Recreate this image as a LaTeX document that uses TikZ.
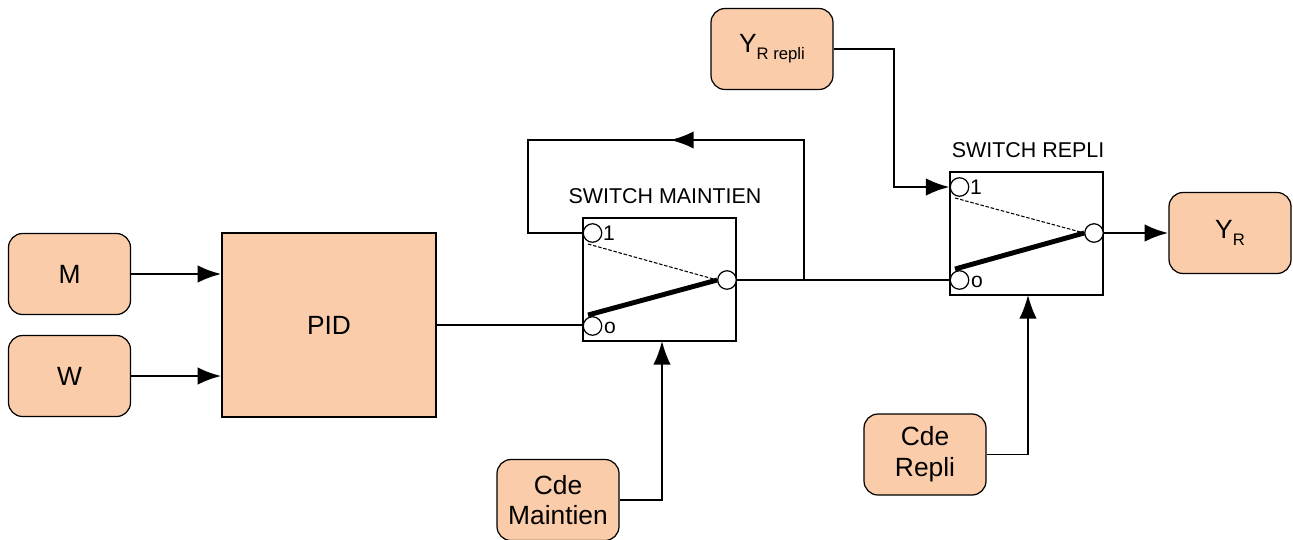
\documentclass[tikz,border=0pt]{standalone}
\usepackage{fontspec}
\setmainfont{Liberation Sans}
\usetikzlibrary{arrows.meta}
\definecolor{boxfill}{RGB}{250,204,170}
\newcommand{\subtxt}[1]{\raisebox{-0.5ex}{\fontsize{9.5}{12}\selectfont #1}}

\begin{document}
\begin{tikzpicture}[x=0.02cm,y=-0.02cm]
	\tikzset{>={Latex[length=13.5pt,width=10pt]}}
	\tikzset{inbox/.style={draw,fill=boxfill,rounded corners=0.28cm,line width=0.7pt,minimum width=2.44cm,minimum height=1.62cm,align=center,inner sep=0pt,font=\fontsize{15}{17.5}\selectfont}}
	\tikzset{switchbox/.style={draw,fill=white,line width=0.7pt,minimum width=3.06cm,minimum height=2.46cm,inner sep=0pt}}
	\tikzset{port/.style={draw,fill=white,circle,line width=0.7pt,minimum size=0.37cm,inner sep=0pt}}
	\tikzset{sig/.style={line width=1.65pt}}
	\tikzset{cmd/.style={line width=1pt}}
	\tikzset{portlabel/.style={inner sep=0pt,font=\fontsize{12}{14}\selectfont}}
	\tikzset{swlabel/.style={inner sep=0pt,font=\fontsize{12.2}{14}\selectfont}}
	\useasboundingbox (0,0) rectangle (1293,539);
	
	\node[inbox] (M) at (69.5,274) {M};
	\node[inbox] (W) at (69.5,376) {W};
	\node[draw,fill=boxfill,line width=0.7pt,minimum width=4.28cm,minimum height=3.68cm,inner sep=0pt,font=\fontsize{15}{17}\selectfont] (PID) at (329,325) {PID};
	\node[inbox] (CdeM) at (558,500) {Cde\\Maintien};
	\node[inbox] (CdeR) at (925,454.5) {Cde\\Repli};
	\node[inbox] (YRrepli) at (772,49) {Y\subtxt{R repli}};
	\node[inbox] (YR) at (1230,233) {Y\subtxt{R}};
	
	% switch maintien
	\node[switchbox] (SM) at (659.5,279.5) {};
	\node[swlabel] (SMlabel) at (665,196) {SWITCH MAINTIEN};
	\node[port] (SM1) at (592.5,233) {};
	\node[port] (SM0) at (592.5,326) {};
	\node[port] (SMout) at (727,280) {};
	\node[portlabel] (SMl1) at (609,233) {1};
	\node[portlabel] (SMl0) at (610,328) {o};
	\coordinate (SMdash) at (588,244);
	\coordinate (SMthick) at (588,315);
	\draw[line width=0.6pt,dash pattern=on 2pt off 1pt] (SMdash) -- (SMout.west);
	\draw[line width=2.8pt] (SMthick) -- (SMout.west);
	
	% switch repli
	\node[switchbox] (SR) at (1026.5,233.5) {};
	\node[swlabel] (SRlabel) at (1028,150) {SWITCH REPLI};
	\node[port] (SR1) at (959.5,187) {};
	\node[port] (SR0) at (959.5,280) {};
	\node[port] (SRout) at (1094,233) {};
	\node[portlabel] (SRl1) at (976,187) {1};
	\node[portlabel] (SRl0) at (977,282) {o};
	\coordinate (SRdash) at (955,198);
	\coordinate (SRthick) at (955,269);
	\draw[line width=0.6pt,dash pattern=on 2pt off 1pt] (SRdash) -- (SRout.west);
	\draw[line width=2.8pt] (SRthick) -- (SRout.west);
	
	% connectors
	\coordinate (tap) at (804,280);
	\coordinate (fbtail) at (700,140);
	\coordinate (fbmid) at (670,140);
	\coordinate (fbleft) at (528,140);
	\coordinate (ycorner) at (894,49);
	\coordinate (SMcmd) at (662,341);
	\coordinate (SRcmd) at (1028,295);
	
	\draw[->,sig] (M.east) -- (M.east -| PID.west);
	\draw[->,sig] (W.east) -- (W.east -| PID.west);
	\draw[sig] (PID.east) -- (PID.east -| SM.west);
	\draw[sig] (SMout.east) -- (SR0.west);
	\draw[sig] (tap) |- (fbleft) |- (SM1.west);
	\draw[->,sig] (fbtail) -- (fbmid);
	\draw[->,sig] (YRrepli.east) -- (ycorner) |- (SR1.west);
	\draw[->,sig] (SRout.east) -- (YR.west);
	\draw[->,cmd] (CdeM.east) -| (SMcmd);
	\draw[->,cmd] (CdeR.east) -| (SRcmd);
\end{tikzpicture}
\end{document}
